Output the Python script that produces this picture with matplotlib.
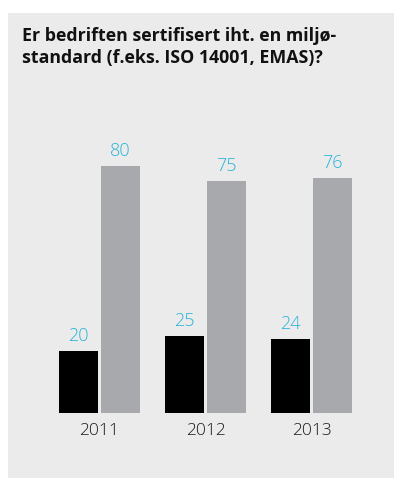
import matplotlib
matplotlib.use("Agg")
import matplotlib.pyplot as plt
from matplotlib.patches import Rectangle
import numpy as np

years = ["2011", "2012", "2013"]
no_values = [20, 25, 24]
yes_values = [80, 75, 76]
title = "Er bedriften sertifisert iht. en miljø-\nstandard (f.eks. ISO 14001, EMAS)?"

W, H = 395, 478
fig = plt.figure(figsize=(W / 100, H / 100), dpi=100)
fig.patch.set_facecolor("white")

# light grey card behind the chart
fig.patches.append(Rectangle((8 / W, 0), (394 - 8) / W, (H - 13) / H,
                             transform=fig.transFigure, facecolor="#ebebeb",
                             edgecolor="none", zorder=-10))

fig.text(22 / W, 1 - 63 / H, title, fontsize=12.8, fontweight="bold",
         family="Open Sans", color="#111111", va="baseline", linespacing=1.3,
         ha="left")

ax = fig.add_axes([46.5 / W, 65 / H, 318 / W, 309 / H])
ax.set_facecolor("none")
ax.set_xlim(-0.5, 2.5)
ax.set_ylim(0, 100)

x = np.arange(len(years))
w = 0.368
off = 0.198
b1 = ax.bar(x - off, no_values, width=w, color="#000000")
b2 = ax.bar(x + off, yes_values, width=w, color="#a8a9ac")

label_color = "#2ab4d8"
for bars, vals in ((b1, no_values), (b2, yes_values)):
    for rect, v in zip(bars, vals):
        ax.annotate(str(v), (rect.get_x() + rect.get_width() / 2, v),
                    xytext=(0, 7.2), textcoords="offset points",
                    ha="center", va="baseline", fontsize=13,
                    family="Open Sans", fontweight="light", color=label_color)

ax.set_xticks(x)
ax.set_xticklabels(years, family="Open Sans", fontweight="light",
                   fontsize=12.5, color="#1a1a1a")
ax.tick_params(axis="x", length=0, pad=7)
ax.set_yticks([])
for s in ax.spines.values():
    s.set_visible(False)

fig.savefig("out.png", dpi=100)
